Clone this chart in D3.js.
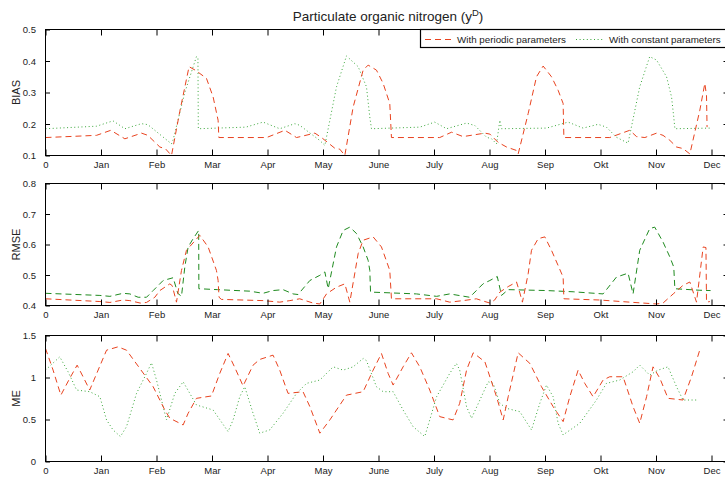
<!DOCTYPE html>
<html>
<head>
<meta charset="utf-8">
<script src="https://cdn.jsdelivr.net/npm/d3@7"></script>
<style>
  body { margin: 0; background: #fff; }
  svg { display: block; }
  text { font-family: "Liberation Sans", Arial, Helvetica, sans-serif; fill: #222; }
</style>
</head>
<body>
<svg id="chart" width="725" height="479"></svg>
<script>
// ---- data -------------------------------------------------------------
const titleText = "Particulate organic nitrogen (y";
const titleSup = "D";
const seriesNames = ["With periodic parameters", "With constant parameters"];

// x axis in days, one tick per 30 days
const xTickValues = [0, 30, 60, 90, 120, 150, 180, 210, 240, 270, 300, 330, 360];
const xTickLabels = ["0", "Jan", "Feb", "Mar", "Apr", "May", "June", "July", "Aug", "Sep", "Okt", "Nov", "Dec"];

const panelNames = ["BIAS", "RMSE", "ME"];
const biasTicks = [0.1, 0.2, 0.3, 0.4, 0.5];
const biasTickLabels = ["0.1", "0.2", "0.3", "0.4", "0.5"];
const rmseTicks = [0.4, 0.5, 0.6, 0.7, 0.8];
const rmseTickLabels = ["0.4", "0.5", "0.6", "0.7", "0.8"];
const meTicks = [0, 0.5, 1, 1.5];
const meTickLabels = ["0", "0.5", "1", "1.5"];

// [day, value]
const biasPeriodic = [
  [0, .157], [27.6, .164], [35.3, .18], [42.9, .153], [51.9, .171], [55.3, .164], [61.8, .127],
  [64.9, .121], [68.1, .10], [72.6, .24], [77.6, .382], [81.2, .37], [87.0, .345], [90.6, .286],
  [93.3, .212], [93.7, .157], [119.5, .157], [129.4, .18], [135.7, .157], [145.6, .171], [149.2, .157],
  [156.4, .123], [159.1, .12], [161.8, .10], [166.3, .254], [171.7, .371], [174.4, .387], [178.9, .371],
  [182.5, .329], [186.1, .265], [187.0, .157], [213.1, .157], [219.5, .174], [225.7, .16], [237.5, .171],
  [240.2, .168], [244.6, .142], [249.2, .127], [254.6, .116], [255.5, .105], [260.9, .233], [265.4, .35],
  [269.0, .384], [273.5, .35], [277.1, .307], [279.8, .265], [280.2, .157], [305.0, .157], [315.8, .18],
  [319.5, .16], [324.0, .157], [330.3, .171], [333.8, .164], [337.5, .148], [341.1, .127], [344.6, .122],
  [348.3, .105], [353.7, .244], [356.4, .329], [357.3, .29], [357.6, .19]
];
const biasConstant = [
  [0, .185], [27.6, .193], [36.5, .21], [42.9, .185], [51.9, .201], [55.3, .198], [68.1, .137],
  [69.0, .15], [75.3, .30], [81.6, .414], [82.4, .41], [82.6, .185], [108.3, .19], [117.6, .206],
  [126.6, .185], [134.8, .201], [137.4, .196], [148.2, .148], [151.0, .132], [157.3, .318], [162.7, .416],
  [169.0, .382], [173.5, .318], [175.3, .222], [176.2, .185], [202.3, .19], [210.4, .206], [216.8, .185],
  [227.6, .203], [232.1, .195], [238.4, .158], [241.1, .153], [243.8, .137], [245.6, .212], [246.5, .185],
  [270.8, .187], [282.5, .206], [290.6, .187], [298.7, .199], [303.2, .19], [308.6, .158], [314.9, .139],
  [321.2, .318], [326.6, .414], [330.3, .403], [335.7, .35], [338.4, .286], [339.6, .222], [340.2, .185],
  [359.1, .187]
];
const rmsePeriodic = [
  [0, .422], [29.4, .413], [34.8, .41], [41.9, .418], [45.6, .416], [51.2, .408], [54.6, .41],
  [59.1, .427], [61.8, .449], [67.2, .471], [68.5, .465], [70.8, .411], [73.5, .515], [76.2, .581],
  [83.4, .63], [87.9, .592], [92.4, .515], [93.3, .482], [93.8, .427], [95.1, .42], [117.6, .416],
  [126.6, .411], [132.1, .416], [137.4, .422], [144.6, .408], [148.3, .405], [151.9, .438], [157.3, .46],
  [161.8, .471], [164.5, .411], [169.0, .57], [171.7, .614], [177.1, .625], [181.6, .592], [186.1, .515],
  [187.0, .422], [211.4, .422], [218.5, .411], [225.7, .416], [232.9, .422], [237.5, .413], [240.2, .408],
  [242.8, .418], [245.6, .444], [250.1, .462], [254.6, .477], [256.0, .45], [257.8, .411], [260.9, .504],
  [262.7, .581], [266.3, .619], [269.9, .625], [273.5, .581], [277.1, .531], [279.8, .493], [280.2, .422],
  [299.6, .418], [315.8, .411], [330.3, .405], [333.8, .408], [339.3, .438], [344.6, .466], [348.3, .477],
  [351.9, .411], [355.5, .592], [357.0, .59], [357.3, .411], [359.1, .413]
];
const rmseConstant = [
  [0, .44], [29.4, .433], [34.8, .43], [41.9, .44], [45.6, .438], [50.1, .427], [54.6, .427],
  [58.2, .449], [63.6, .482], [69.0, .491], [71.5, .44], [73.5, .43], [75.3, .526], [77.1, .592],
  [79.8, .619], [82.8, .646], [82.9, .455], [92.9, .452], [110.4, .447], [117.6, .44], [123.0, .449],
  [128.4, .452], [133.8, .438], [136.5, .436], [142.9, .482], [148.3, .499], [151.0, .51], [152.8, .455],
  [157.3, .592], [160.9, .646], [164.5, .657], [168.1, .636], [171.7, .592], [174.4, .548], [175.3, .515],
  [175.7, .444], [200.5, .438], [211.4, .43], [218.5, .438], [229.3, .427], [236.5, .471], [240.2, .482],
  [244.2, .495], [246.5, .433], [250.1, .452], [270.8, .449], [285.2, .445], [301.4, .438], [308.6, .493],
  [314.9, .506], [317.6, .438], [321.2, .581], [326.6, .652], [329.3, .657], [333.8, .608], [337.5, .559],
  [339.6, .526], [340.2, .455], [353.7, .45], [359.5, .449]
];
const mePeriodic = [
  [0, 1.346], [4.1, 1.088], [8.3, .79], [13.1, .99], [17.1, 1.147], [20.3, 1.009], [23.9, .851],
  [33.0, 1.325], [39.2, 1.365], [43.8, 1.325], [58.2, .89], [64.5, .613], [67.2, .515], [74.4, .435],
  [77.1, .574], [81.6, .752], [89.7, .78], [94.2, 1.049], [98.7, 1.286], [102.3, 1.12], [106.8, .9],
  [112.2, 1.147], [115.8, 1.215], [123.0, 1.266], [126.6, 1.088], [131.1, .811], [139.2, .831],
  [142.9, .653], [148.3, .337], [153.7, .495], [162.7, .79], [171.7, .831], [177.1, 1.088], [181.6, 1.286],
  [185.2, 1.049], [187.9, .91], [193.3, 1.127], [197.8, 1.294], [202.3, 1.127], [207.7, .851],
  [213.1, .534], [220.3, .495], [223.9, .693], [227.6, 1.088], [231.2, 1.294], [237.5, 1.187],
  [243.8, .771], [247.4, .495], [250.1, .771], [255.5, 1.294], [261.8, 1.168], [268.1, .89], [274.4, .653],
  [279.8, .475], [283.4, .771], [287.9, 1.088], [291.5, .93], [296.0, .771], [301.4, .97], [305.0, 1.009],
  [312.2, 1.009], [317.6, .653], [321.2, .455], [324.9, .771], [328.4, 1.127], [332.1, .99], [336.5, .752],
  [344.6, .732], [349.2, 1.009], [353.7, 1.33]
];
const meConstant = [
  [0, 1.088], [7.7, 1.246], [12.2, 1.068], [16.8, .851], [23.9, .831], [29.4, .771], [33.0, .495],
  [36.5, .376], [40.5, .297], [43.8, .415], [49.2, .811], [54.6, 1.049], [57.3, 1.175], [60.0, .97],
  [65.4, .495], [69.9, .811], [74.4, .949], [81.6, .673], [90.6, .613], [98.7, .356], [101.4, .495],
  [105.0, .771], [107.7, .89], [112.2, .574], [115.8, .337], [121.2, .376], [128.4, .574], [135.7, .811],
  [141.1, .93], [148.3, .97], [155.5, 1.127], [160.9, 1.088], [166.3, 1.127], [171.7, 1.227], [173.5, 1.2],
  [178.9, .89], [182.5, .831], [187.9, .831], [193.3, .613], [198.7, .415], [205.0, .297], [207.7, .495],
  [211.4, .771], [218.5, 1.049], [222.1, 1.168], [223.9, 1.088], [227.6, .653], [230.3, .515], [234.8, .732],
  [239.3, .949], [242.0, .93], [245.6, .693], [249.2, .633], [256.4, .593], [262.7, .376], [267.2, .693],
  [270.8, .91], [274.4, .771], [277.1, .455], [279.8, .317], [288.8, .455], [297.8, .732], [303.2, .93],
  [310.4, .97], [317.6, 1.068], [321.2, 1.147], [326.6, 1.029], [331.2, 1.088], [336.5, 1.127],
  [341.1, .89], [344.6, .732], [352.7, .732]
];

// ---- layout & style ---------------------------------------------------
const W = 725, H = 479;
const left = 45.5, right = 728;
const colPeriodic = "#e8431f";
const colConstantDot = "#3aa63a";
const colConstantDash = "#1f8a1f";
const dashPattern = "6,4";
const dotPattern = "1,2.6";
const tickFont = 9.5;

const svg = d3.select("#chart");

const x = d3.scaleLinear().domain([0, (right - left) / 1.85]).range([left, right]);

const panels = [
  { name: panelNames[0], top: 29.5, bottom: 155.5, domain: [0.1, 0.5], ticks: biasTicks, labels: biasTickLabels,
    periodic: biasPeriodic, constant: biasConstant, constColor: colConstantDot, constDash: dotPattern },
  { name: panelNames[1], top: 183.5, bottom: 305.5, domain: [0.4, 0.8], ticks: rmseTicks, labels: rmseTickLabels,
    periodic: rmsePeriodic, constant: rmseConstant, constColor: colConstantDash, constDash: dashPattern },
  { name: panelNames[2], top: 335.5, bottom: 461.5, domain: [0, 1.5], ticks: meTicks, labels: meTickLabels,
    periodic: mePeriodic, constant: meConstant, constColor: colConstantDot, constDash: dotPattern }
];

panels.forEach((p, i) => {
  const y = d3.scaleLinear().domain(p.domain).range([p.bottom, p.top]);
  const g = svg.append("g");

  const clipId = "clip" + i;
  svg.append("clipPath").attr("id", clipId)
    .append("rect").attr("x", left).attr("y", p.top).attr("width", right - left).attr("height", p.bottom - p.top);

  const line = d3.line().x(d => x(d[0])).y(d => y(d[1]));
  const lines = g.append("g").attr("clip-path", `url(#${clipId})`);
  lines.append("path").datum(p.constant)
    .attr("d", line).attr("fill", "none")
    .attr("stroke", p.constColor).attr("stroke-width", 1)
    .attr("stroke-dasharray", p.constDash);
  lines.append("path").datum(p.periodic)
    .attr("d", line).attr("fill", "none")
    .attr("stroke", colPeriodic).attr("stroke-width", 1)
    .attr("stroke-dasharray", dashPattern);

  // axes: ticks point inward on all four sides
  const bottomAxis = d3.axisBottom(x).tickValues(xTickValues)
    .tickFormat((d, k) => xTickLabels[k]).tickSizeInner(-6).tickSizeOuter(0).tickPadding(5.4);
  const topAxis = d3.axisTop(x).tickValues(xTickValues)
    .tickFormat("").tickSizeInner(-6).tickSizeOuter(0);
  const leftAxis = d3.axisLeft(y).tickValues(p.ticks)
    .tickFormat((d, k) => p.labels[k]).tickSizeInner(-4.5).tickSizeOuter(0).tickPadding(9.5);
  const rightAxis = d3.axisRight(y).tickValues(p.ticks)
    .tickFormat("").tickSizeInner(-4.5).tickSizeOuter(0);

  const styleAxis = sel => {
    sel.select(".domain").remove();
    sel.selectAll(".tick line").attr("stroke", "#000");
    sel.selectAll("text").attr("font-size", tickFont).attr("fill", "#222")
      .attr("font-family", '"Liberation Sans", Arial, sans-serif');
  };
  g.append("g").attr("transform", `translate(0,${p.bottom})`).call(bottomAxis).call(styleAxis);
  g.append("g").attr("transform", `translate(0,${p.top})`).call(topAxis).call(styleAxis);
  g.append("g").attr("transform", `translate(${left},0)`).call(leftAxis).call(styleAxis);
  g.append("g").attr("transform", `translate(${right},0)`).call(rightAxis).call(styleAxis);

  g.append("rect").attr("x", left).attr("y", p.top)
    .attr("width", right - left).attr("height", p.bottom - p.top)
    .attr("fill", "none").attr("stroke", "#000").attr("stroke-width", 1);

  g.append("text")
    .attr("transform", `translate(15.5,${(p.top + p.bottom) / 2}) rotate(-90)`)
    .attr("text-anchor", "middle").attr("dominant-baseline", "central")
    .attr("font-size", 11).text(p.name);
});

// title
const title = svg.append("text").attr("x", 388).attr("y", 21)
  .attr("text-anchor", "middle").attr("font-size", 13.5);
title.append("tspan").text(titleText);
title.append("tspan").attr("dy", -5.5).attr("font-size", 9.5).text(titleSup);
title.append("tspan").attr("dy", 5.5).text(")");

// legend
const leg = svg.append("g");
leg.append("rect").attr("x", 420.5).attr("y", 29.5).attr("width", 310).attr("height", 18)
  .attr("fill", "#fff").attr("stroke", "#000").attr("stroke-width", 1.2);
const legY = 39.5;
leg.append("line").attr("x1", 425).attr("x2", 453).attr("y1", legY).attr("y2", legY)
  .attr("stroke", colPeriodic).attr("stroke-dasharray", dashPattern);
leg.append("text").attr("x", 457).attr("y", legY).attr("dy", "0.35em")
  .attr("font-size", 9.8).text(seriesNames[0]);
leg.append("line").attr("x1", 576).attr("x2", 603).attr("y1", legY).attr("y2", legY)
  .attr("stroke", colConstantDot).attr("stroke-dasharray", dotPattern);
leg.append("text").attr("x", 609).attr("y", legY).attr("dy", "0.35em")
  .attr("font-size", 9.8).text(seriesNames[1]);
</script>
</body>
</html>
